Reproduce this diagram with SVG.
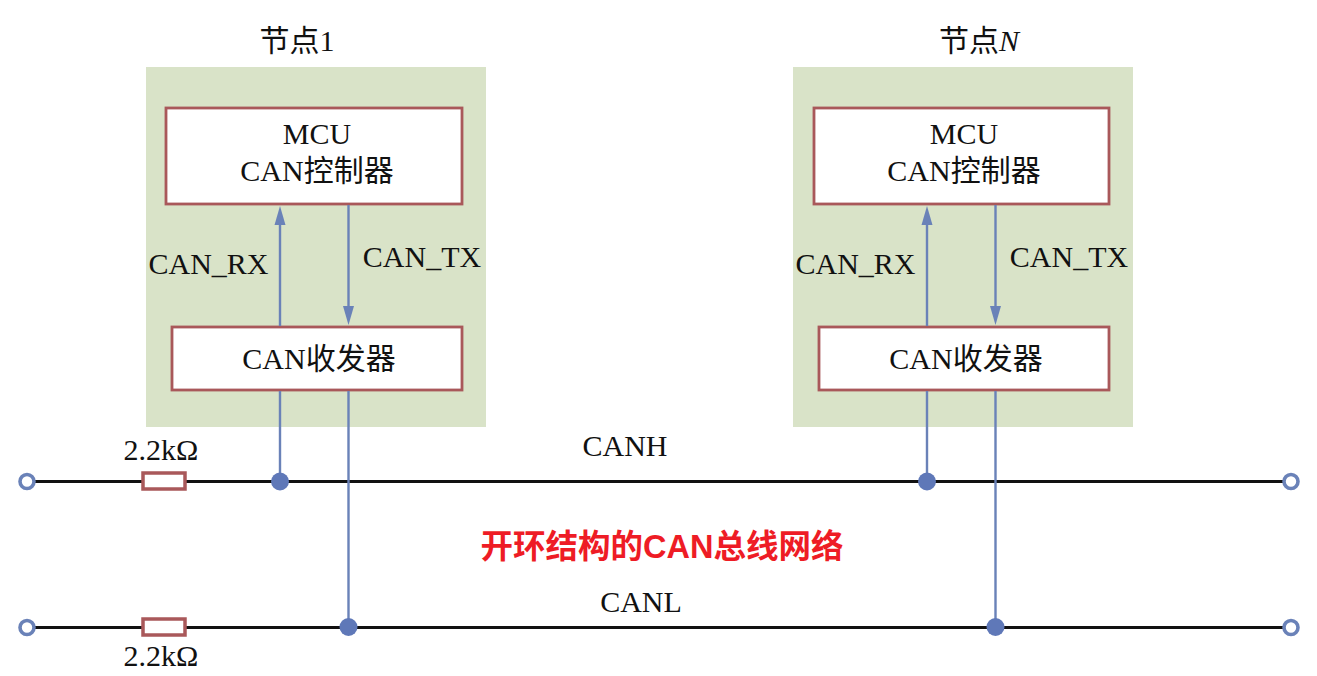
<svg xmlns="http://www.w3.org/2000/svg" width="1317" height="676" viewBox="0 0 1317 676">
<defs>
<marker id="arrow" markerUnits="userSpaceOnUse" markerWidth="20" markerHeight="12" refX="1" refY="6" orient="auto"><path d="M0 0.500L19 6L0 11.500z" fill="#6a82b8"/></marker>
</defs>
<style>
text{font-family:"Liberation Serif","Noto Sans CJK SC",serif;font-size:30px;fill:#111;text-anchor:middle}
.panel{fill:#d9e3c8}
.box{fill:#fff;stroke:#a9585a;stroke-width:2.8}
.res{fill:#fff;stroke:#a9585a;stroke-width:3.5}
.sig{fill:none;stroke:#6a82b8;stroke-width:2.4}
.bus{fill:none;stroke:#111;stroke-width:3}
.dot{fill:#5f78b8}
.term{fill:#fff;stroke:#6a82b8;stroke-width:3.6}
.title{font-family:"Liberation Sans","Noto Sans CJK SC",sans-serif;font-weight:700;font-size:32.500px;fill:#ee1c25;stroke:#fff;stroke-width:5;stroke-opacity:.75;paint-order:stroke}
</style>
<rect width="1317" height="676" fill="#fff"/>
<g id="node1">
<text x="297" y="51">节点1</text>
<rect class="panel" x="146" y="67" width="340" height="360"/>
<rect class="box" x="166" y="108" width="296" height="96"/>
<text x="317" y="144">MCU</text>
<text x="317" y="181">CAN控制器</text>
<rect class="box" x="172" y="327" width="290" height="63"/>
<text x="319" y="369">CAN收发器</text>
</g>
<g id="nodeN">
<text x="979" y="51">节点<tspan font-style="italic">N</tspan></text>
<rect class="panel" x="793" y="67" width="340" height="360"/>
<rect class="box" x="814" y="108" width="295" height="96"/>
<text x="964" y="144">MCU</text>
<text x="964" y="181">CAN控制器</text>
<rect class="box" x="819" y="327" width="290" height="63"/>
<text x="966" y="369">CAN收发器</text>
</g>
<g id="connectors">
<path class="bus" d="M27 481.500H1291M27 627.500H1291"/>
<path class="sig" d="M280 326V224" marker-end="url(#arrow)"/>
<path class="sig" d="M348.500 205V307" marker-end="url(#arrow)"/>
<path class="sig" d="M280 391V481M348.500 391V627"/>
<path class="sig" d="M927 326V224" marker-end="url(#arrow)"/>
<path class="sig" d="M995.500 205V307" marker-end="url(#arrow)"/>
<path class="sig" d="M927 391V481M995.500 391V627"/>
</g>
<g id="labels">
<text x="208.500" y="274">CAN_RX</text>
<text x="422" y="267">CAN_TX</text>
<text x="855.500" y="274">CAN_RX</text>
<text x="1069" y="267">CAN_TX</text>
<text x="625" y="456">CANH</text>
<text x="641" y="612">CANL</text>
<text x="161" y="460">2.2kΩ</text>
<text x="161" y="666">2.2kΩ</text>
<text class="title" x="662" y="558">开环结构的CAN总线网络</text>
</g>
<g id="resistor-h"><rect class="res" x="143" y="473" width="42" height="16"/></g>
<g id="resistor-l"><rect class="res" x="143" y="619" width="42" height="16"/></g>
<g id="junctions">
<circle class="dot" cx="280" cy="481.500" r="9"/>
<circle class="dot" cx="927" cy="481.500" r="9"/>
<circle class="dot" cx="348.500" cy="627" r="9"/>
<circle class="dot" cx="995.500" cy="627" r="9"/>
</g>
<g id="terminals">
<circle class="term" cx="27" cy="481.500" r="7"/>
<circle class="term" cx="1291" cy="481.500" r="7"/>
<circle class="term" cx="27" cy="627.500" r="7"/>
<circle class="term" cx="1291" cy="627.500" r="7"/>
</g>
</svg>
